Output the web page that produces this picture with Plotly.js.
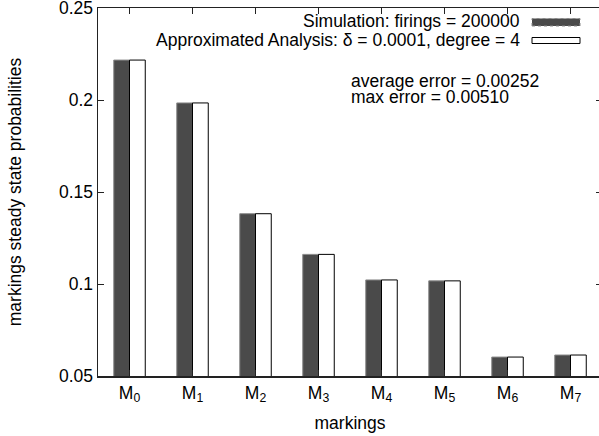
<!DOCTYPE html>
<html>
<head>
<meta charset="utf-8">
<script src="https://cdn.plot.ly/plotly-3.0.1.min.js"></script>
<style>
html,body{margin:0;padding:0;overflow:hidden;background:#fff;width:599px;height:436px;}
#chart{position:absolute;left:0;top:-22px;width:610px;height:458px;}
</style>
</head>
<body>
<div id="chart"></div>
<script>
var categories = ["M<sub>0</sub>","M<sub>1</sub>","M<sub>2</sub>","M<sub>3</sub>","M<sub>4</sub>","M<sub>5</sub>","M<sub>6</sub>","M<sub>7</sub>"];
var simulation = [0.2217, 0.1984, 0.1382, 0.1161, 0.1022, 0.1017, 0.0603, 0.0614];
var approximated = [0.2217, 0.1984, 0.1382, 0.1161, 0.1022, 0.1017, 0.0603, 0.0614];
var yTicks = [0.05, 0.1, 0.15, 0.2, 0.25];
var yTickLabels = ["0.05", "0.1", "0.15", "0.2", "0.25"];
var legendLabels = ["Simulation: firings = 200000", "Approximated Analysis: δ = 0.0001, degree = 4"];
var notes = ["average error = 0.00252", "max error = 0.00510"];

var idx = categories.map(function(_, i){ return i; });

// plot geometry in on-screen pixels (div is shifted up by SHIFT px)
var SHIFT = 22, W = 610, H = 458;
var L = 98, R = 602, T = 8, B = 376;
function px(x){ return (x - L) / (R - L); }
function py(y){ return (B - y) / (B - T); }

var FONT = "Liberation Sans, Arial, Helvetica, sans-serif";
var FS = 17.5;

var traces = [
  {type:"bar", x: idx, y: simulation, name: legendLabels[0],
   marker:{color:"#4a4a4a", line:{color:"#8a8a8a", width:1}}, showlegend:false},
  {type:"bar", x: idx, y: approximated, name: legendLabels[1],
   marker:{color:"#ffffff", line:{color:"#000000", width:1}}, showlegend:false}
];

var layout = {
  width: W, height: H,
  margin: {l: L, r: W - R, t: T + SHIFT, b: H - SHIFT - B, pad: 0},
  paper_bgcolor: "#fff", plot_bgcolor: "#fff",
  font: {family: FONT, size: FS, color: "#000"},
  barmode: "group", bargap: 0.5, bargroupgap: 0,
  xaxis: {
    range: [-0.5, 7.5], tickvals: idx, ticktext: categories,
    showline: true, linecolor: "#222", linewidth: 1.5, mirror: "ticks",
    ticks: "inside", ticklen: 6, tickcolor: "#222", tickwidth: 1,
    showgrid: false, zeroline: false,
    title: {text: "markings", font: {size: FS}, standoff: 12}
  },
  yaxis: {
    range: [0.05, 0.25], tickvals: yTicks, ticktext: yTickLabels,
    showline: true, linecolor: "#222", linewidth: 1.5, mirror: "ticks",
    ticks: "inside", ticklen: 6, tickcolor: "#222", tickwidth: 1,
    showgrid: false, zeroline: false,
    title: {text: "markings steady state probabilities", font: {size: FS}, standoff: 33}
  },
  annotations: [
    {xref:"paper", yref:"paper", x: px(522), y: py(21), xanchor:"right", yanchor:"middle",
     text: legendLabels[0], showarrow:false, font:{size:FS}},
    {xref:"paper", yref:"paper", x: px(522), y: py(40.5), xanchor:"right", yanchor:"middle",
     text: legendLabels[1], showarrow:false, font:{size:FS}},
    {xref:"paper", yref:"paper", x: px(349), y: py(81.5), xanchor:"left", yanchor:"middle",
     text: notes[0], showarrow:false, font:{size:FS}},
    {xref:"paper", yref:"paper", x: px(349), y: py(97), xanchor:"left", yanchor:"middle",
     text: notes[1], showarrow:false, font:{size:FS}}
  ],
  shapes: [
    {type:"rect", xref:"paper", yref:"paper", x0: px(532), x1: px(580), y0: py(26), y1: py(18.5),
     fillcolor:"#4a4a4a", line:{color:"#8a8a8a", width:1, dash:"dot"}},
    {type:"rect", xref:"paper", yref:"paper", x0: px(532), x1: px(580), y0: py(43.5), y1: py(37.5),
     fillcolor:"#ffffff", line:{color:"#000", width:1}}
  ]
};

Plotly.newPlot("chart", traces, layout, {displayModeBar:false, staticPlot:true});
</script>
</body>
</html>
